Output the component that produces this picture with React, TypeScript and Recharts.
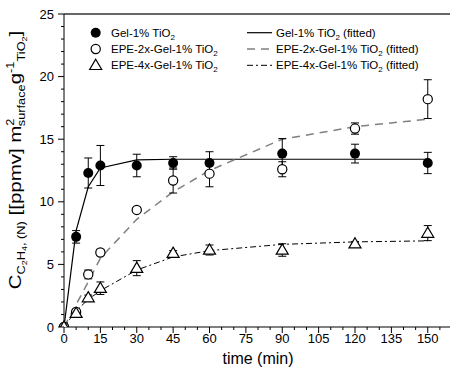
import React from "react";
import {
  ComposedChart,
  Line,
  Scatter,
  XAxis,
  YAxis,
  ErrorBar,
  ReferenceLine,
  Legend,
} from "recharts";

// sampling times (min)
const time = [0, 5, 10, 15, 30, 45, 60, 90, 120, 150];

// measured values
const gel = [0, 7.2, 12.3, 12.9, 12.9, 13.1, 13.1, 13.85, 13.85, 13.1];
const gelErr = [null, 0.5, 1.2, 1.6, 0.9, 0.5, 0.9, 1.2, 0.75, 0.85];
const epe2 = [0, 1.2, 4.2, 5.95, 9.35, 11.7, 12.25, 12.6, 15.85, 18.2];
const epe2Err = [null, 0.2, 0.35, 0.25, 0.2, 1.0, 1.05, 0.6, 0.45, 1.55];
const epe4 = [0, 1.1, 2.35, 3.1, 4.7, 5.9, 6.15, 6.15, 6.65, 7.5];
const epe4Err = [null, 0.2, 0.2, 0.5, 0.6, 0.2, 0.4, 0.5, 0.15, 0.6];

// fitted curves
const gelFit = [0, 7.7, 11.2, 12.7, 13.35, 13.4, 13.4, 13.4, 13.4, 13.4];
const epe2Fit = [0, 1.8, 3.6, 5.5, 8.6, 10.8, 12.5, 15.0, 16.0, 16.6];
const epe4Fit = [0, 1.3, 2.2, 2.9, 4.55, 5.6, 6.1, 6.6, 6.8, 6.88];

// axis ticks
const xTicks = [0, 5, 10, 15, 20, 25, 30, 35, 40, 45, 50, 55, 60, 65, 70, 75, 80, 85, 90, 95, 100, 105, 110, 115, 120, 125, 130, 135, 140, 145, 150, 155];
const xLabels = [0, 15, 30, 45, 60, 75, 90, 105, 120, 135, 150];
const yTicks = [0, 1, 2, 3, 4, 5, 6, 7, 8, 9, 10, 11, 12, 13, 14, 15, 16, 17, 18, 19, 20, 21, 22, 23, 24, 25];
const yLabels = [0, 5, 10, 15, 20, 25];

const pts = (ys: number[], errs?: (number | null)[]) =>
  time.map((t, i) => ({ t, y: ys[i], err: errs ? errs[i] : null }));

const FONT = '"Liberation Sans", Arial, sans-serif';

const FilledCircle = ({ cx, cy }: any) => <circle cx={cx} cy={cy} r={5} fill="#000" />;
const OpenCircle = ({ cx, cy }: any) => (
  <circle cx={cx} cy={cy} r={4.6} fill="#fff" stroke="#000" strokeWidth={1.2} />
);
const Triangle = ({ cx, cy }: any) => (
  <path
    d={`M${cx},${cy - 6} L${cx + 6},${cy + 4.2} L${cx - 6},${cy + 4.2} Z`}
    fill="#fff"
    stroke="#000"
    strokeWidth={1.2}
  />
);

const XTick = ({ x, y, payload }: any) => {
  const major = xLabels.includes(payload.value);
  return (
    <g>
      <line x1={x} x2={x} y1={y} y2={y + (major ? 6 : 3)} stroke="#000" />
      {major && (
        <text x={x} y={y + 16} textAnchor="middle" fontSize={13} fill="#000">
          {payload.value}
        </text>
      )}
    </g>
  );
};

const YTick = ({ x, y, payload }: any) => {
  const major = yLabels.includes(payload.value);
  return (
    <g>
      <line x1={x} x2={x - (major ? 6 : 3)} y1={y} y2={y} stroke="#000" />
      {major && (
        <text x={x - 10} y={y + 4.5} textAnchor="end" fontSize={13} fill="#000">
          {payload.value}
        </text>
      )}
    </g>
  );
};

const YLabel = () => (
  <text
    transform="translate(21,160) rotate(-90) scale(1.28,1)"
    x={0}
    y={0}
    textAnchor="middle"
    fontSize={16}
    fill="#000"
  >
    C
    <tspan fontSize={10} dy={4}>C</tspan>
    <tspan fontSize={7} dy={2}>2</tspan>
    <tspan fontSize={10} dy={-2}>H</tspan>
    <tspan fontSize={7} dy={2}>4</tspan>
    <tspan fontSize={10} dy={-2}>, (N)</tspan>
    <tspan fontSize={16} dy={-4}> [[ppmv] m</tspan>
    <tspan fontSize={10} dy={-7}>2</tspan>
    <tspan fontSize={10} dx={-6} dy={11}>surface</tspan>
    <tspan fontSize={16} dy={-4}>g</tspan>
    <tspan fontSize={10} dy={-7}>-1</tspan>
    <tspan fontSize={10} dy={11}>TiO</tspan>
    <tspan fontSize={7} dy={2}>2</tspan>
    <tspan fontSize={16} dy={-6}>]</tspan>
  </text>
);

const rows = [
  { name: "Gel-1% TiO", marker: FilledCircle, dash: undefined, color: "#000", width: 1.2 },
  { name: "EPE-2x-Gel-1% TiO", marker: OpenCircle, dash: "8 6", color: "#808080", width: 1.5 },
  { name: "EPE-4x-Gel-1% TiO", marker: Triangle, dash: "6 3 2 3", color: "#000", width: 1 },
];

const LegendBox = () => (
  <svg width={360} height={56} style={{ fontFamily: FONT }}>
    {rows.map((r, i) => {
      const y = 10.7 + i * 16.3;
      const M = r.marker;
      return (
        <g key={r.name}>
          <M cx={10.7} cy={y} />
          <text x={26} y={y + 4} fontSize={11.5} fill="#000">
            {r.name}
            <tspan fontSize={8} dy={3}>2</tspan>
          </text>
          <line x1={162} x2={187} y1={y} y2={y} stroke={r.color} strokeWidth={r.width} strokeDasharray={r.dash} />
          <text x={191} y={y + 4} fontSize={11.5} fill="#000">
            {r.name}
            <tspan fontSize={8} dy={3}>2</tspan>
            <tspan dy={-3}> (fitted)</tspan>
          </text>
        </g>
      );
    })}
  </svg>
);

export default function App() {
  return (
    <div
      style={{
        position: "absolute",
        left: 0,
        top: 0,
        width: 450,
        height: 373,
        overflow: "hidden",
        background: "#fff",
        fontFamily: FONT,
      }}
    >
      <ComposedChart width={460} height={373} margin={{ top: 14, right: 8, bottom: 0, left: 0 }}>
        <XAxis
          dataKey="t"
          type="number"
          domain={[0, 160]}
          ticks={xTicks}
          interval={0}
          tickLine={false}
          tickSize={0}
          tickMargin={0}
          tick={XTick}
          height={46}
          axisLine={{ stroke: "#000" }}
          label={{
            value: "time (min)",
            position: "insideBottom",
            offset: 9,
            fontSize: 16,
            fontWeight: 400,
            fill: "#000",
          }}
        />
        <YAxis
          dataKey="y"
          type="number"
          domain={[0, 25]}
          ticks={yTicks}
          interval={0}
          width={64}
          tickLine={false}
          tickSize={0}
          tickMargin={0}
          tick={YTick}
          allowDataOverflow
          axisLine={{ stroke: "#000" }}
          label={{ content: () => <YLabel /> }}
        />
        <ReferenceLine y={25} stroke="#333" strokeWidth={1.4} />
        <Legend
          layout="horizontal"
          verticalAlign="middle"
          align="center"
          content={() => <LegendBox />}
          wrapperStyle={{ left: 85, top: 22, width: 360, height: 56 }}
        />
        <Line data={pts(gelFit)} dataKey="y" type="linear" stroke="#000" strokeWidth={1.2} dot={false} activeDot={false} isAnimationActive={false} />
        <Line data={pts(epe2Fit)} dataKey="y" type="linear" stroke="#808080" strokeWidth={1.5} strokeDasharray="8 6" dot={false} activeDot={false} isAnimationActive={false} />
        <Line data={pts(epe4Fit)} dataKey="y" type="linear" stroke="#000" strokeWidth={1} strokeDasharray="6 3 2 3" dot={false} activeDot={false} isAnimationActive={false} />
        <Scatter data={pts(gel, gelErr)} dataKey="y" shape={FilledCircle} isAnimationActive={false}>
          <ErrorBar dataKey="err" direction="y" width={4} stroke="#000" strokeWidth={1} />
        </Scatter>
        <Scatter data={pts(epe2, epe2Err)} dataKey="y" shape={OpenCircle} isAnimationActive={false}>
          <ErrorBar dataKey="err" direction="y" width={4} stroke="#000" strokeWidth={1} />
        </Scatter>
        <Scatter data={pts(epe4, epe4Err)} dataKey="y" shape={Triangle} isAnimationActive={false}>
          <ErrorBar dataKey="err" direction="y" width={4} stroke="#000" strokeWidth={1} />
        </Scatter>
      </ComposedChart>
    </div>
  );
}
